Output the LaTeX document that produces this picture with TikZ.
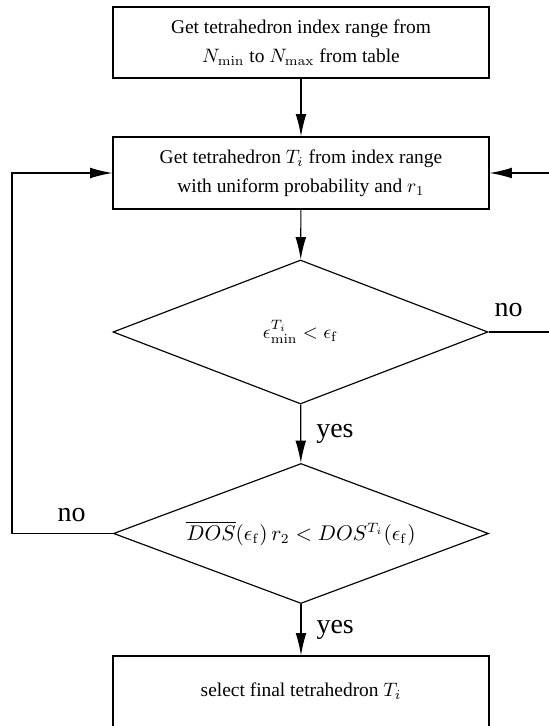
\documentclass[tikz,border=0pt]{standalone}
\usepackage[no-math]{fontspec}
\setmainfont{Liberation Serif}
\usetikzlibrary{shapes.geometric,arrows.meta}
\begin{document}
\begin{tikzpicture}[x=0.515pt,y=-0.515pt,
  every path/.style={line width=0.6pt},
  procbox/.style={draw, rectangle, inner sep=0pt, minimum width={376*0.515pt}, align=center,
    font=\fontsize{10}{14.8}\selectfont},
  decision/.style={draw, diamond, aspect=2.65, inner sep=0pt, minimum width={375*0.515pt}},
  flow/.style={-{Latex[length=11.5pt,width=5.5pt]}},
  lbl/.style={font=\fontsize{14.4}{16}\selectfont, inner sep=0pt}]
\useasboundingbox (0,0) rectangle (548,726);
\node[procbox, minimum height={71*0.515pt}] (b1) at (301,42.5) {Get tetrahedron index range from\\ $N_{\min}$ to $N_{\max}$ from table};
\node[procbox, minimum height={72*0.515pt}] (b2) at (301,173) {Get tetrahedron $T_i$ from index range\\ with uniform probability and $r_1$};
\node[decision, minimum height={144*0.515pt}, font=\fontsize{9.6}{12}\selectfont] (d1) at (300.5,332) {$\epsilon_{\min}^{T_i} < \epsilon_{\mathrm{f}}$};
\node[decision, minimum height={140*0.515pt}, font=\fontsize{10.7}{13}\selectfont] (d2) at (301,533.5) {$\overline{DOS}(\epsilon_{\mathrm{f}})\, r_2 < DOS^{T_i}(\epsilon_{\mathrm{f}})$};
\node[procbox, minimum height={71*0.515pt}] (b3) at (301,691.5) {select final tetrahedron $T_i$};
\coordinate (rc) at (553,332);
\coordinate (lc) at (12,533.5);
\draw[flow] (b1) -- (b2);
\draw[flow] (b2) -- (d1);
\draw[flow] (d1) -- node[lbl, anchor=west, xshift={15*0.515pt}] {yes} (d2);
\draw[flow] (d2) -- node[lbl, anchor=west, xshift={15*0.515pt}] {yes} (b3);
\draw[flow] (d1.east) -- (rc) |- (b2.east);
\draw[flow] (d2.west) -- (lc) |- (b2.west);
\node[lbl] (nor) at (508.5,310) {no};
\node[lbl] (nol) at (71.5,515) {no};
\end{tikzpicture}
\end{document}
